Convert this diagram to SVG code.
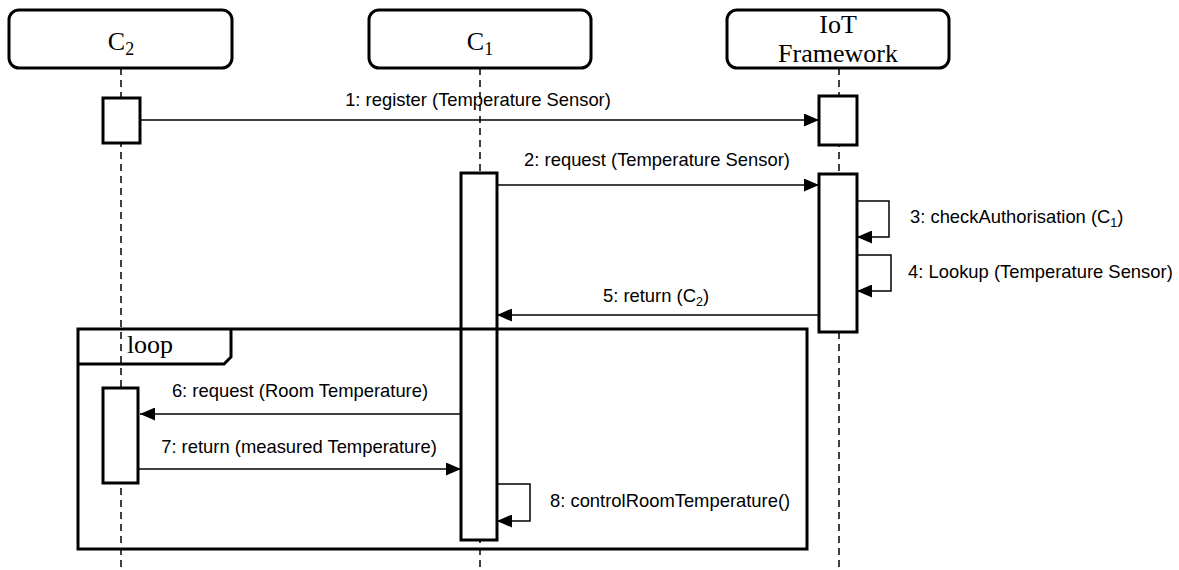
<svg xmlns="http://www.w3.org/2000/svg" width="1179" height="570" viewBox="0 0 1179 570">
  <style>
    .head { fill: #fff; stroke: #000; stroke-width: 3; }
    .title { font-family: "Liberation Serif", "Times New Roman", serif; font-size: 26px; fill: #000; text-anchor: middle; }
    .life { stroke: #000; stroke-width: 1.5; stroke-dasharray: 7 5; fill: none; }
    .act { fill: #fff; stroke: #000; stroke-width: 3; }
    .msg { stroke: #000; stroke-width: 1.5; fill: none; }
    .lbl { font-family: "Liberation Sans", Arial, sans-serif; font-size: 18.4px; fill: #000; }
    .frame { fill: none; stroke: #000; stroke-width: 3; }
  </style>
  <defs>
    <marker id="head" markerWidth="15" markerHeight="13" refX="15" refY="6.5" orient="auto" markerUnits="userSpaceOnUse">
      <path d="M0,0 L15,6.5 L0,13 Z" fill="#000"/>
    </marker>
  </defs>

  <rect width="1179" height="570" fill="#fff"/>

  <!-- lifelines -->
  <g id="lifelines">
    <line class="life" x1="121" y1="68" x2="121" y2="570"/>
    <line class="life" x1="480" y1="68" x2="480" y2="570"/>
    <line class="life" x1="839" y1="68" x2="839" y2="570"/>
  </g>

  <!-- participants -->
  <g id="c2">
    <rect class="head" x="9" y="10" width="223" height="58" rx="10"/>
    <text class="title" x="121" y="50">C<tspan font-size="18" dy="5">2</tspan></text>
    <rect class="act" x="103" y="98" width="37" height="45"/>
    <rect class="act" x="103" y="388" width="35" height="95"/>
  </g>
  <g id="c1">
    <rect class="head" x="369" y="10" width="222" height="58" rx="10"/>
    <text class="title" x="480" y="50">C<tspan font-size="18" dy="5">1</tspan></text>
    <rect class="act" x="461" y="173" width="36" height="367"/>
  </g>
  <g id="iot">
    <rect class="head" x="727" y="10" width="222" height="58" rx="10"/>
    <text class="title" x="838" y="33" font-size="25">IoT</text>
    <text class="title" x="838" y="62" font-size="25">Framework</text>
    <rect class="act" x="819" y="96" width="38" height="49"/>
    <rect class="act" x="819" y="174" width="38" height="158"/>
  </g>

  <!-- loop fragment -->
  <g id="loop">
    <rect class="frame" x="78" y="329" width="729" height="220"/>
    <path class="frame" d="M78,364 H224 L231,357 V329"/>
    <text class="title" x="150" y="353" font-size="22">loop</text>
  </g>

  <!-- messages -->
  <g id="messages">
    <line class="msg" x1="140" y1="120" x2="819" y2="120" marker-end="url(#head)"/>
    <text class="lbl" x="478" y="106" text-anchor="middle">1: register (Temperature Sensor)</text>

    <line class="msg" x1="497" y1="185" x2="819" y2="185" marker-end="url(#head)"/>
    <text class="lbl" x="657" y="166" text-anchor="middle">2: request (Temperature Sensor)</text>

    <path class="msg" d="M857,201 H889 V237 H857" marker-end="url(#head)"/>
    <text class="lbl" x="910" y="223">3: checkAuthorisation (C<tspan font-size="12.5" dy="4">1</tspan><tspan dy="-4">)</tspan></text>

    <path class="msg" d="M857,255 H891 V291 H857" marker-end="url(#head)"/>
    <text class="lbl" x="908" y="278">4: Lookup (Temperature Sensor)</text>

    <line class="msg" x1="819" y1="315" x2="497" y2="315" marker-end="url(#head)"/>
    <text class="lbl" x="656" y="302" text-anchor="middle">5: return (C<tspan font-size="12.5" dy="4">2</tspan><tspan dy="-4">)</tspan></text>

    <line class="msg" x1="461" y1="414" x2="140" y2="414" marker-end="url(#head)"/>
    <text class="lbl" x="300" y="397" text-anchor="middle">6: request (Room Temperature)</text>

    <line class="msg" x1="138" y1="469" x2="461" y2="469" marker-end="url(#head)"/>
    <text class="lbl" x="299" y="453" text-anchor="middle">7: return (measured Temperature)</text>

    <path class="msg" d="M497,484 H530 V521 H497" marker-end="url(#head)"/>
    <text class="lbl" x="550" y="507">8: controlRoomTemperature()</text>
  </g>
</svg>
